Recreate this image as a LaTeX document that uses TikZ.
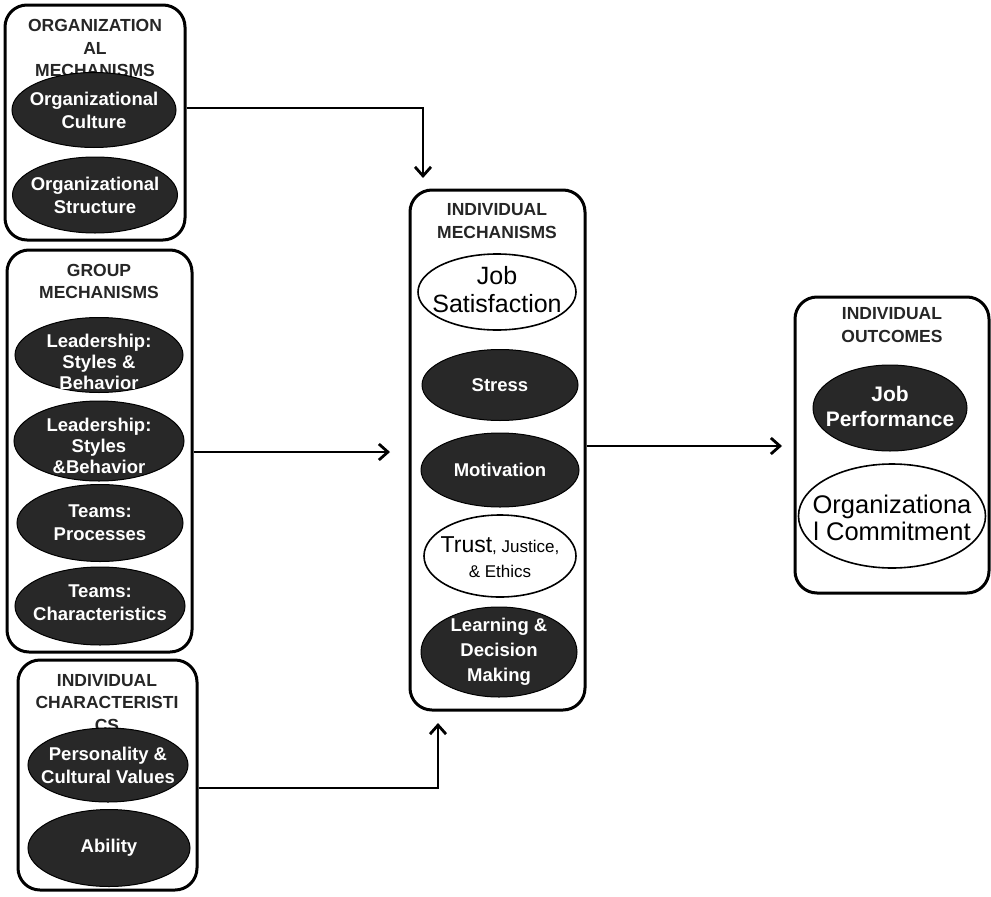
\documentclass[tikz,border=0pt]{standalone}
\usepackage{fontspec}
\setmainfont{Liberation Sans}
\usetikzlibrary{shapes.geometric,arrows.meta}
\definecolor{ellfill}{HTML}{282828}
\tikzset{
  box/.style={draw, line width=3pt, rounded corners=22pt, inner sep=0pt, fill=white},
  darkell/.style={ellipse, fill=ellfill, draw=black, line width=1pt, inner sep=0pt},
  lightell/.style={ellipse, fill=white, draw=black, line width=1.6pt, inner sep=0pt},
  wtext/.style={text=white, font=\bfseries\fontsize{18.5}{23}\selectfont, align=center, inner sep=0pt},
  btext/.style={align=center, font=\fontsize{25}{28}\selectfont, inner sep=0pt},
  head/.style={align=center, font=\bfseries\fontsize{17.5}{22.5}\selectfont, inner sep=0pt, text=black!85},
  conn/.style={line width=2.8pt, -{Straight Barb[length=9pt,width=16pt,line width=2.8pt]}},
}
\begin{document}
\begin{tikzpicture}[x=1pt,y=-1pt]
\useasboundingbox (0,0) rectangle (991,897);

% boxes
\node[box, minimum width=180, minimum height=235] (b1) at (95,122.5) {};
\node[box, minimum width=185, minimum height=402] (b2) at (99.5,451) {};
\node[box, minimum width=179, minimum height=230] (b3) at (107.5,775) {};
\node[box, minimum width=175, minimum height=520] (mid) at (497.5,450) {};
\node[box, minimum width=194, minimum height=296] (out) at (892,445) {};

% headers
\node[head] (h1) at (95,48) {ORGANIZATION\\AL\\MECHANISMS};
\node[head] (h2) at (99,281.5) {GROUP\\MECHANISMS};
\node[head] (h3) at (107,703) {INDIVIDUAL\\CHARACTERISTI\\CS};
\node[head] (h4) at (497,221) {INDIVIDUAL\\MECHANISMS};
\node[head] (h5) at (892,325) {INDIVIDUAL\\OUTCOMES};

% organizational mechanisms
\node[darkell, minimum width=164, minimum height=75] (oc) at (94,110) {};
\node[wtext] at (oc) {Organizational\\Culture};
\node[darkell, minimum width=165, minimum height=76] (os) at (95,195) {};
\node[wtext] at (os) {Organizational\\Structure};

% group mechanisms
\node[darkell, minimum width=168, minimum height=75] (l1) at (99,355) {};
\node[wtext, font=\bfseries\fontsize{18.5}{21}\selectfont] at ([yshift=-7pt]l1.center) {Leadership:\\Styles \&\\Behavior};
\node[darkell, minimum width=170, minimum height=80] (l2) at (99,441) {};
\node[wtext, font=\bfseries\fontsize{18.5}{21}\selectfont] at ([yshift=-5pt]l2.center) {Leadership:\\Styles\\\&Behavior};
\node[darkell, minimum width=166, minimum height=77] (tp) at (100,523) {};
\node[wtext] at (tp) {Teams:\\Processes};
\node[darkell, minimum width=170, minimum height=78] (tc) at (100,606) {};
\node[wtext] at ([yshift=3pt]tc.center) {Teams:\\Characteristics};

% individual characteristics
\node[darkell, minimum width=160, minimum height=74] (pc) at (108,765) {};
\node[wtext] at (pc) {Personality \&\\Cultural Values};
\node[darkell, minimum width=162, minimum height=77] (ab) at (109,848) {};
\node[wtext] at (ab) {Ability};

% individual mechanisms
\node[lightell, minimum width=158, minimum height=76] (js) at (497,292) {};
\node[btext] at ([yshift=2pt]js.center) {Job\\Satisfaction};
\node[darkell, minimum width=156, minimum height=71] (st) at (500,385) {};
\node[wtext] at (st) {Stress};
\node[darkell, minimum width=158, minimum height=74] (mo) at (500,470) {};
\node[wtext] at (mo) {Motivation};
\node[lightell, minimum width=152, minimum height=82] (tr) at (500,556) {};
\node[align=center, inner sep=0pt, font=\fontsize{17}{25}\selectfont] at ([yshift=-1pt]tr.center) {{\fontsize{23}{25}\selectfont Trust}, Justice,\\\& Ethics};
\node[darkell, minimum width=156, minimum height=90] (ld) at (499,652) {};
\node[wtext, font=\bfseries\fontsize{18.5}{25}\selectfont] at (ld) {Learning \&\\Decision\\Making};

% individual outcomes
\node[darkell, minimum width=154, minimum height=86] (jp) at (890,408) {};
\node[wtext, font=\bfseries\fontsize{21}{25}\selectfont] at ([yshift=2pt]jp.center) {Job\\Performance};
\node[lightell, minimum width=187, minimum height=104] (ocm) at (892,516) {};
\node[btext, font=\fontsize{25.5}{27}\selectfont] at ([yshift=-2pt]ocm.center) {Organizationa\\l Commitment};

% connectors
\coordinate (t1) at (423,178);
\coordinate (t2) at (390,452);
\coordinate (t3) at (438,723);
\coordinate (t4) at (782,446);
\draw[conn] (b1.east |- 0,108) -| (t1);
\draw[conn] (b2.east |- t2) -- (t2);
\draw[conn] (b3.east |- 0,788) -| (t3);
\draw[conn] (mid.east |- t4) -- (t4);
\end{tikzpicture}
\end{document}
